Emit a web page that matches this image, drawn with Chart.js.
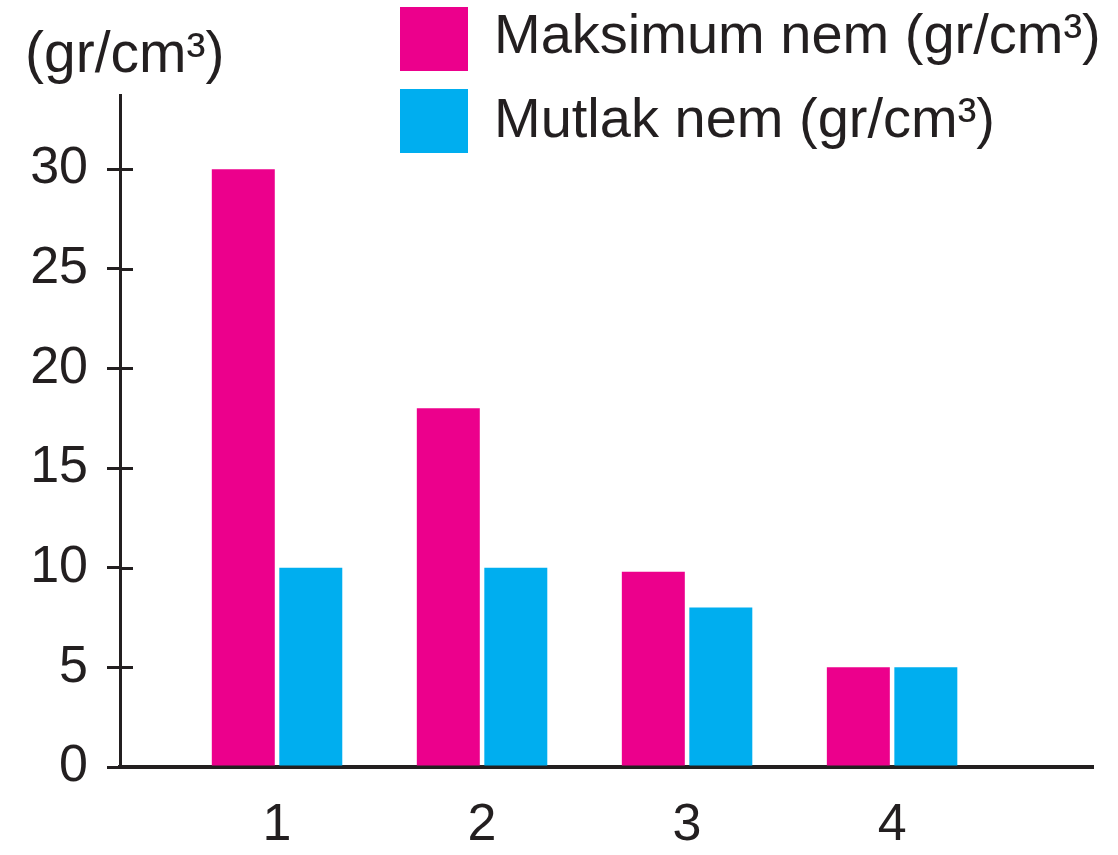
<!DOCTYPE html>
<html>
<head>
<meta charset="utf-8">
<script src="https://cdn.jsdelivr.net/npm/chart.js@4"></script>
<style>
  html, body { margin: 0; padding: 0; background: #ffffff; }
  #wrap { width: 1118px; height: 855px; }
</style>
</head>
<body>
<div id="wrap"><canvas id="c" width="1118" height="855"></canvas></div>
<script>
// ---- data ----
const categories = [1, 2, 3, 4];
const xTickLabels = ['1', '2', '3', '4'];
const maksimumNem = [30, 18, 9.8, 5];
const mutlakNem = [10, 10, 8, 5];
const yTickValues = [0, 5, 10, 15, 20, 25, 30];
const seriesLabels = ['Maksimum nem (gr/cm³)', 'Mutlak nem (gr/cm³)'];
const unitLabel = '(gr/cm³)';

// ---- styles ----
const INK = '#231f20';
const MAGENTA = '#ec008c';
const CYAN = '#00aeef';
const FONT = '"Liberation Sans", Arial, Helvetica, sans-serif';

const toPoints = (vals) => categories.map((c, i) => ({ x: c, y: vals[i] }));

const decorPlugin = {
  id: 'decor',
  afterDraw(chart) {
    const ctx = chart.ctx;
    const area = chart.chartArea;
    const ys = chart.scales.y;
    ctx.save();
    // inner half of the crossing tick marks on the y axis
    ctx.strokeStyle = INK;
    ctx.lineWidth = 3;
    ys.ticks.forEach(t => {
      const py = Math.round(ys.getPixelForValue(t.value)) + 0.5;
      ctx.beginPath();
      ctx.moveTo(area.left, py);
      ctx.lineTo(area.left + 13, py);
      ctx.stroke();
    });
    // legend (boxes stacked, left aligned)
    const boxX = 400, boxW = 68, boxH = 64;
    const rows = [{ top: 7, base: 53 }, { top: 89, base: 137 }];
    ctx.font = '56px ' + FONT;
    ctx.textAlign = 'left';
    ctx.textBaseline = 'alphabetic';
    chart.data.datasets.forEach((ds, i) => {
      const r = rows[i];
      ctx.fillStyle = ds.backgroundColor;
      ctx.fillRect(boxX, r.top, boxW, boxH);
      ctx.fillStyle = INK;
      ctx.fillText(ds.label, 494, r.base);
    });
    ctx.restore();
  }
};

new Chart(document.getElementById('c'), {
  type: 'bar',
  data: {
    datasets: [
      { label: seriesLabels[0], data: toPoints(maksimumNem), backgroundColor: MAGENTA, borderWidth: 0 },
      { label: seriesLabels[1], data: toPoints(mutlakNem), backgroundColor: CYAN, borderWidth: 0 }
    ]
  },
  options: {
    responsive: false,
    devicePixelRatio: 1,
    animation: false,
    categoryPercentage: 0.6585,
    barPercentage: 0.933,
    layout: { padding: { left: 25, right: 25, top: 0, bottom: 0 } },
    plugins: {
      legend: { display: false },
      tooltip: { enabled: false },
      title: {
        display: true,
        text: unitLabel,
        align: 'start',
        color: INK,
        font: { family: FONT, size: 57, weight: 'normal', lineHeight: 1.2 },
        padding: { top: 22, bottom: 5 }
      }
    },
    scales: {
      x: {
        type: 'linear',
        offset: false,
        min: 0.234,
        max: 4.98,
        z: 1,
        afterBuildTicks: (scale) => { scale.ticks = categories.map(v => ({ value: v })); },
        afterFit: (scale) => { scale.height = 88; },
        grid: { display: false, drawTicks: false, offset: false },
        border: { display: true, color: INK, width: 4 },
        ticks: {
          color: INK,
          padding: 27,
          font: { family: FONT, size: 52 },
          callback: (v) => xTickLabels[categories.indexOf(v)]
        }
      },
      y: {
        type: 'linear',
        min: 0,
        max: 33.7,
        z: 1,
        afterBuildTicks: (scale) => { scale.ticks = yTickValues.map(v => ({ value: v })); },
        afterFit: (scale) => { scale.width = 95; },
        grid: { display: true, drawOnChartArea: false, drawTicks: true, tickLength: 13, color: INK, lineWidth: 3 },
        border: { display: true, color: INK, width: 3 },
        ticks: {
          color: INK,
          padding: 19,
          font: { family: FONT, size: 52 }
        }
      }
    }
  },
  plugins: [decorPlugin]
});
</script>
</body>
</html>
